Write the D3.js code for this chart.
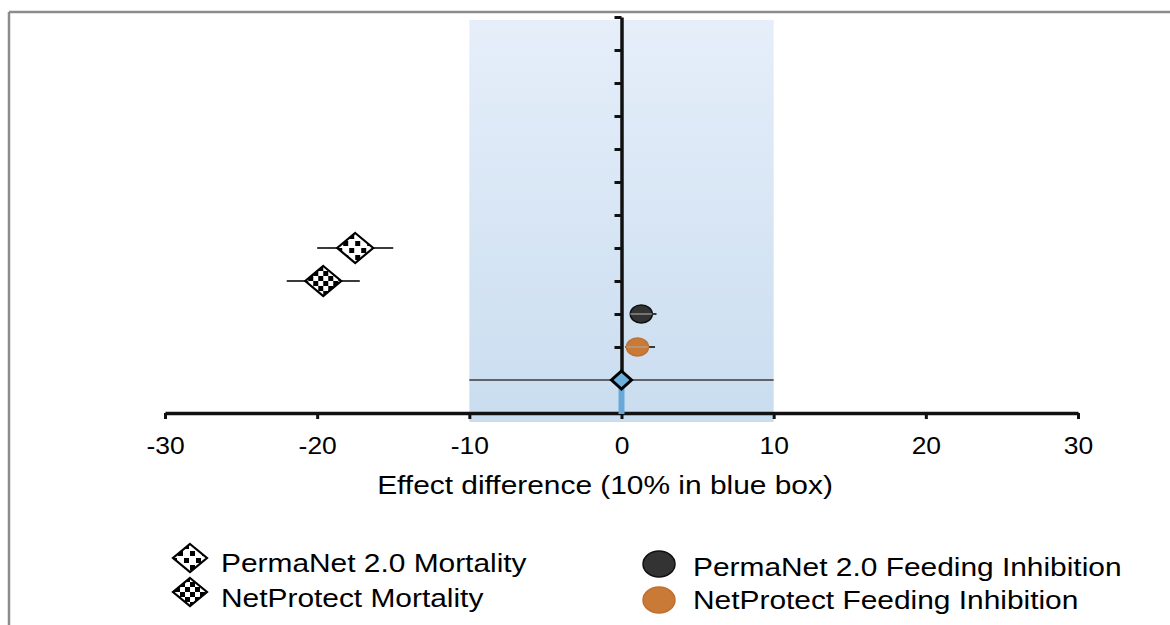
<!DOCTYPE html>
<html>
<head>
<meta charset="utf-8">
<script src="https://cdn.jsdelivr.net/npm/d3@7"></script>
<style>
  body { margin: 0; background: #fff; }
  svg { display: block; font-family: "Liberation Sans", Arial, sans-serif; }
</style>
</head>
<body>
<svg id="chart" width="1170" height="625"></svg>
<script>
/* data */
const rowNames = ["PermaNet 2.0 Mortality", "NetProtect Mortality",
                  "PermaNet 2.0 Feeding Inhibition", "NetProtect Feeding Inhibition"];
const rowPos   = [5, 4, 3, 2];
const means    = [-17.5, -19.6, 1.3, 1.05];
const lower    = [-20.0, -22.0, 0.65, 0.25];
const upper    = [-15.0, -17.2, 2.3, 2.2];
const kinds    = ["diamondSparse", "diamondChecker", "dotBlack", "dotOrange"];
const xTicks   = [-30, -20, -10, 0, 10, 20, 30];
const yTicks   = [1, 2, 3, 4, 5, 6, 7, 8, 9, 10, 11, 12];
const boxRange = [-10, 10];
const refRow   = 1;
const refValue = 0;
const xTitle   = "Effect difference (10% in blue box)";

const STRETCH = 1.15;   // figure text is slightly widened

const svg = d3.select("#chart");

/*  scales ------------------------------------------------------------*/
const x = d3.scaleLinear().domain([-30, 30]).range([165, 1078]);
const y = d3.scaleLinear().domain([0, 12]).range([413, 17]);

/*  defs: box gradient and marker fills -------------------------------*/
const defs = svg.append("defs");
const grad = defs.append("linearGradient")
  .attr("id", "boxGrad").attr("x1", 0).attr("y1", 0).attr("x2", 0).attr("y2", 1);
grad.append("stop").attr("offset", "0%").attr("stop-color", "#e6eefa");
grad.append("stop").attr("offset", "100%").attr("stop-color", "#c9ddef");

const checker = defs.append("pattern").attr("id", "checker")
  .attr("patternUnits", "userSpaceOnUse").attr("width", 10).attr("height", 10);
checker.append("rect").attr("width", 10).attr("height", 10).attr("fill", "#fff");
checker.append("rect").attr("width", 5).attr("height", 5).attr("fill", "#000");
checker.append("rect").attr("x", 5).attr("y", 5).attr("width", 5).attr("height", 5).attr("fill", "#000");

const sparse = defs.append("pattern").attr("id", "sparse")
  .attr("patternUnits", "userSpaceOnUse").attr("width", 12).attr("height", 14);
sparse.append("rect").attr("width", 12).attr("height", 14).attr("fill", "#fff");
sparse.append("rect").attr("x", 6).attr("y", 0).attr("width", 5).attr("height", 5).attr("fill", "#000");
sparse.append("rect").attr("x", 0).attr("y", 7).attr("width", 5).attr("height", 5).attr("fill", "#000");

/*  frame lines (top and left) ----------------------------------------*/
svg.append("line").attr("x1", 9).attr("y1", 12).attr("x2", 1170).attr("y2", 12)
  .attr("stroke", "#8c8c8c").attr("stroke-width", 2.5);
svg.append("line").attr("x1", 9).attr("y1", 12).attr("x2", 9).attr("y2", 625)
  .attr("stroke", "#8c8c8c").attr("stroke-width", 2.5);

/*  blue box of +-10% -------------------------------------------------*/
svg.append("rect")
  .attr("x", x(boxRange[0]))
  .attr("y", y(12) + 3)
  .attr("width", x(boxRange[1]) - x(boxRange[0]))
  .attr("height", y(0) - y(12) + 6)
  .attr("fill", "url(#boxGrad)");

/*  x axis ------------------------------------------------------------*/
const gx = svg.append("g")
  .attr("transform", `translate(0,${y(0)})`)
  .call(d3.axisBottom(x).tickValues(xTicks).tickSize(6).tickSizeOuter(0).tickPadding(19)
        .tickFormat(d => String(d)));
gx.select(".domain").attr("stroke", "#111").attr("stroke-width", 3.5);
gx.selectAll(".tick line").attr("stroke", "#111").attr("stroke-width", 3);
gx.selectAll(".tick text")
  .attr("font-size", 23).attr("fill", "#000")
  .attr("font-family", "Liberation Sans, Arial, sans-serif")
  .attr("transform", `scale(${STRETCH},1)`);

/*  y axis (vertical line at zero) -------------------------------------*/
const gy = svg.append("g")
  .attr("transform", `translate(${x(0)},0)`)
  .call(d3.axisLeft(y).tickValues(yTicks).tickSize(7).tickSizeOuter(0).tickFormat(""));
gy.select(".domain").attr("stroke", "#111").attr("stroke-width", 3.5);
gy.selectAll(".tick line").attr("stroke", "#111").attr("stroke-width", 3);

/*  reference bar under the zero diamond (over the axis line) ----------*/
svg.append("rect")
  .attr("x", x(refValue) - 3)
  .attr("y", y(refRow))
  .attr("width", 6)
  .attr("height", y(0) - y(refRow) + 1)
  .attr("fill", "#6aa8d8");

/*  reference row: line across blue box and zero diamond ---------------*/
svg.append("line")
  .attr("x1", x(boxRange[0])).attr("x2", x(boxRange[1]))
  .attr("y1", y(refRow)).attr("y2", y(refRow))
  .attr("stroke", "#3a3a3a").attr("stroke-width", 1.6);

function diamond(w, h) {
  return `M0,${-h}L${w},0L0,${h}L${-w},0Z`;
}
svg.append("path")
  .attr("d", diamond(10, 9))
  .attr("transform", `translate(${x(refValue)},${y(refRow)})`)
  .attr("fill", "#6db0de").attr("stroke", "#000").attr("stroke-width", 3)
  .attr("stroke-linejoin", "miter");

/*  the four estimates -------------------------------------------------*/
const rows = rowNames.map((name, i) => ({
  name, pos: rowPos[i], mean: means[i], lo: lower[i], hi: upper[i], kind: kinds[i]
}));

const est = svg.append("g").selectAll("g.est").data(rows).join("g")
  .attr("class", "est");

est.append("line")
  .attr("x1", d => x(d.lo)).attr("x2", d => x(d.hi))
  .attr("y1", d => y(d.pos)).attr("y2", d => y(d.pos))
  .attr("stroke", "#3a3a3a").attr("stroke-width", 2);

function drawMarker(sel, kind, w, h) {
  if (kind === "diamondSparse" || kind === "diamondChecker") {
    sel.append("path")
      .attr("d", diamond(w, h))
      .attr("fill", kind === "diamondChecker" ? "url(#checker)" : "url(#sparse)")
      .attr("stroke", "#000").attr("stroke-width", 2.2);
  } else {
    sel.append("ellipse")
      .attr("rx", w).attr("ry", h)
      .attr("fill", kind === "dotBlack" ? "#333" : "#c87a36")
      .attr("stroke", kind === "dotBlack" ? "#111" : "#c07030")
      .attr("stroke-width", 1.5);
  }
}

est.each(function(d) {
  const g = d3.select(this).append("g")
    .attr("transform", `translate(${x(d.mean)},${y(d.pos)})`);
  if (d.kind.startsWith("diamond")) {
    drawMarker(g, d.kind, 18, 15);
  } else {
    drawMarker(g, d.kind, 11, 9);
    g.append("line").attr("x1", -11).attr("x2", 11)
      .attr("stroke", "rgba(170,170,170,0.55)").attr("stroke-width", 2);
  }
});

/*  axis title ---------------------------------------------------------*/
svg.append("text")
  .attr("transform", `translate(605,494) scale(${STRETCH},1)`)
  .attr("text-anchor", "middle")
  .attr("font-size", 26)
  .text(xTitle);

/*  legend -------------------------------------------------------------*/
const legendSpots = [
  { mx: 190, my: 558, tx: 221, ty: 572 },
  { mx: 190, my: 592, tx: 221, ty: 607 },
  { mx: 659, my: 564, tx: 693, ty: 576 },
  { mx: 659, my: 600, tx: 693, ty: 609 }
];

const legend = svg.append("g").selectAll("g.leg").data(rows).join("g")
  .attr("class", "leg");

legend.each(function(d, i) {
  const s = legendSpots[i];
  const g = d3.select(this);
  const m = g.append("g").attr("transform", `translate(${s.mx},${s.my})`);
  if (d.kind.startsWith("diamond")) drawMarker(m, d.kind, 17, 14);
  else drawMarker(m, d.kind, 16, 13);
  g.append("text")
    .attr("transform", `translate(${s.tx},${s.ty}) scale(${STRETCH},1)`)
    .attr("font-size", 26)
    .text(d.name);
});
</script>
</body>
</html>
